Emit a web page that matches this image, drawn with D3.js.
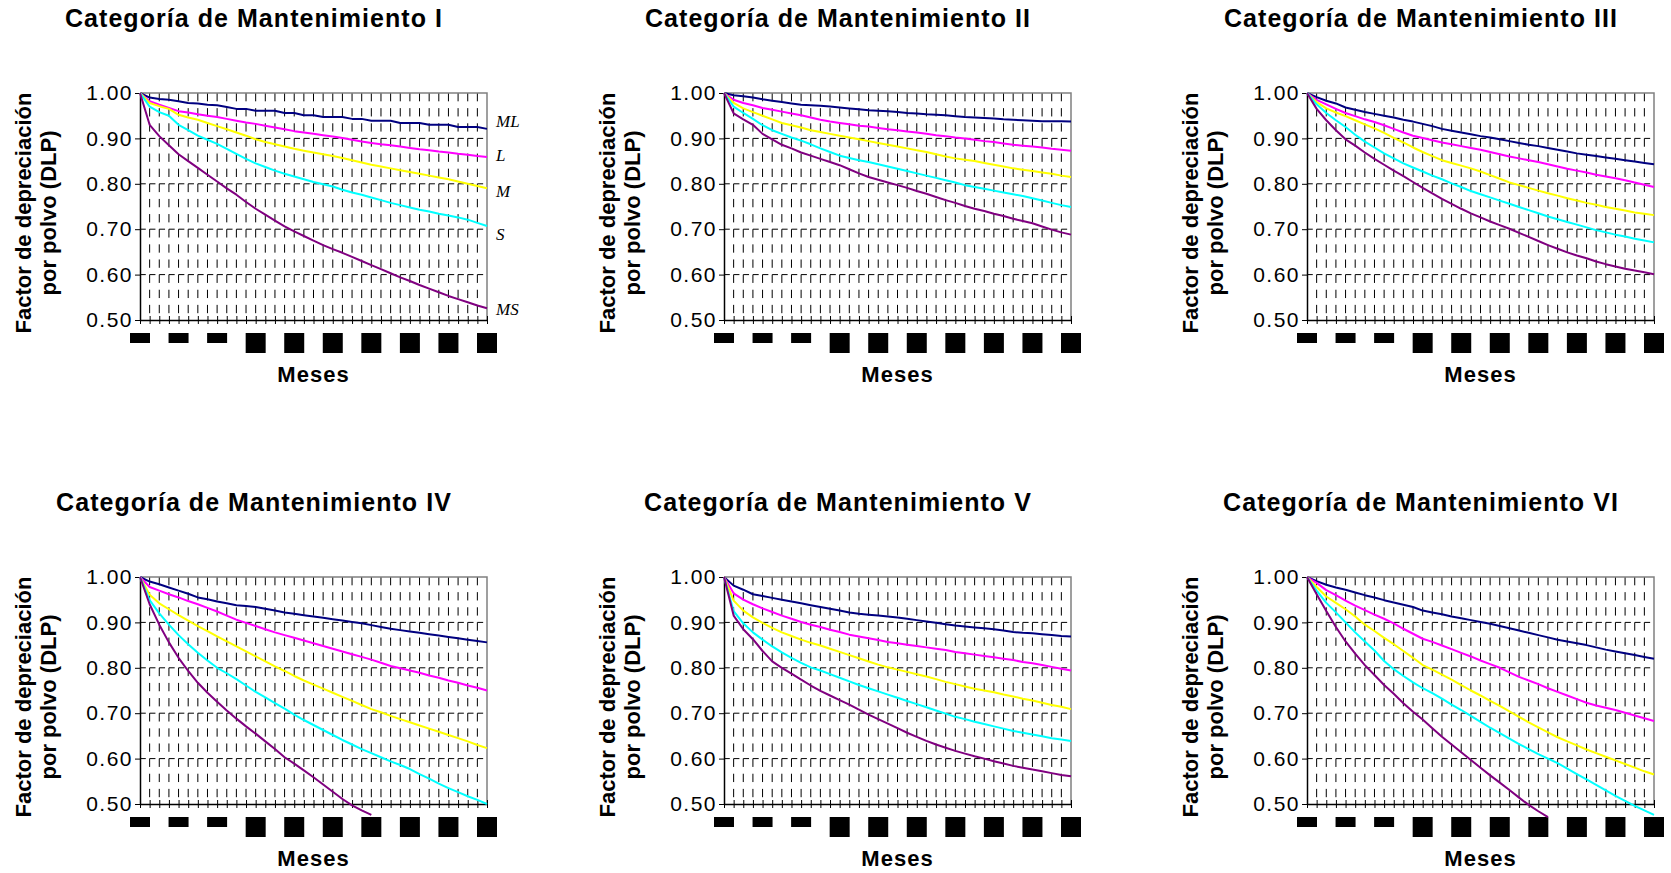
<!DOCTYPE html>
<html>
<head>
<meta charset="utf-8">
<script src="https://cdn.jsdelivr.net/npm/d3@7"></script>
<style>
  body { margin: 0; background: #fff; }
  svg { display: block; font-family: 'Liberation Sans', Arial, sans-serif; }
</style>
</head>
<body>
<svg id="chart" width="1671" height="873"></svg>
<script>
// DATA
const meses = [0,1,2,3,4,5,6,7,8,9,10,11,12,13,14,15,16,17,18,19,20,21,22,23,24,25,26,27,28,29,30,31,32,33,34,35,36];
const marcasMeses = [0,4,8,12,16,20,24,28,32,36];
const valoresY = [0.5,0.6,0.7,0.8,0.9,1.0];
const categorias = ['ML','L','M','S','MS'];
const titulos = [
  'Categoría de Mantenimiento I',
  'Categoría de Mantenimiento II',
  'Categoría de Mantenimiento III',
  'Categoría de Mantenimiento IV',
  'Categoría de Mantenimiento V',
  'Categoría de Mantenimiento VI',
];

const I_ML = [1.000,.990,.987,.985,.982,.978,.977,.974,.973,.969,.965,.965,.961,.961,.961,.956,.956,.951,.951,.947,.947,.947,.943,.943,.939,.939,.939,.934,.934,.934,.930,.930,.930,.925,.925,.925,.921];
const I_L  = [1.000,.982,.974,.967,.960,.957,.953,.950,.947,.943,.939,.935,.932,.928,.924,.920,.916,.913,.910,.907,.904,.901,.897,.893,.890,.887,.885,.882,.879,.876,.874,.871,.869,.866,.864,.861,.859];
const I_M  = [1.000,.978,.971,.965,.952,.946,.941,.934,.927,.920,.913,.906,.898,.892,.887,.882,.877,.873,.869,.865,.861,.857,.852,.847,.842,.838,.834,.830,.826,.822,.818,.814,.810,.805,.800,.795,.790];
const I_S  = [1.000,.970,.958,.950,.930,.918,.906,.897,.888,.877,.866,.855,.845,.837,.829,.822,.816,.810,.804,.799,.794,.787,.781,.776,.770,.764,.758,.753,.748,.743,.739,.734,.730,.726,.721,.714,.707];
const I_MS = [1.000,.930,.905,.885,.865,.850,.835,.820,.805,.790,.776,.760,.745,.732,.719,.706,.695,.685,.675,.665,.656,.648,.639,.630,.621,.612,.603,.594,.586,.577,.569,.561,.553,.546,.539,.532,.526];

const II_ML = [1.000,.995,.993,.990,.986,.983,.980,.977,.974,.973,.972,.970,.968,.966,.964,.962,.961,.960,.958,.956,.955,.953,.952,.951,.949,.947,.946,.945,.944,.942,.941,.940,.939,.938,.938,.938,.937];
const II_L  = [1.000,.985,.978,.973,.967,.963,.959,.955,.951,.946,.941,.937,.934,.931,.928,.926,.923,.920,.918,.915,.913,.910,.907,.905,.902,.900,.897,.894,.892,.889,.886,.884,.882,.880,.877,.875,.873];
const II_M  = [1.000,.978,.966,.958,.950,.942,.934,.929,.924,.918,.914,.910,.906,.902,.898,.894,.890,.886,.882,.878,.874,.870,.865,.860,.856,.853,.850,.846,.842,.838,.834,.831,.828,.825,.822,.818,.815];
const II_S  = [1.000,.970,.956,.943,.929,.918,.910,.902,.895,.887,.878,.870,.862,.857,.852,.848,.843,.838,.833,.828,.823,.818,.813,.808,.803,.797,.793,.789,.785,.781,.777,.773,.768,.763,.758,.753,.749];
const II_MS = [1.000,.955,.942,.930,.910,.898,.886,.878,.869,.862,.855,.848,.841,.832,.823,.815,.809,.803,.797,.791,.784,.778,.771,.764,.758,.751,.745,.740,.734,.729,.723,.718,.713,.706,.699,.693,.688];

const III_ML = [1.000,.991,.983,.977,.968,.963,.958,.954,.950,.946,.941,.937,.932,.927,.921,.917,.913,.909,.905,.902,.898,.894,.890,.886,.883,.879,.875,.871,.867,.864,.861,.858,.855,.852,.849,.846,.843];
const III_L  = [1.000,.985,.975,.965,.956,.949,.942,.936,.929,.921,.913,.906,.901,.896,.891,.887,.883,.879,.875,.870,.865,.860,.856,.852,.848,.843,.838,.833,.829,.825,.820,.816,.812,.808,.803,.798,.793];
const III_M  = [1.000,.980,.966,.957,.949,.940,.931,.922,.912,.901,.891,.880,.870,.861,.852,.846,.840,.834,.827,.819,.811,.803,.797,.791,.785,.779,.774,.768,.763,.758,.754,.749,.745,.741,.737,.734,.731];
const III_S  = [1.000,.975,.956,.940,.925,.908,.893,.880,.867,.856,.845,.836,.827,.818,.810,.801,.793,.784,.777,.770,.763,.756,.749,.742,.735,.728,.722,.716,.710,.704,.698,.693,.688,.684,.679,.675,.671];
const III_MS = [1.000,.965,.940,.918,.898,.884,.869,.855,.842,.829,.817,.804,.791,.779,.767,.756,.745,.735,.726,.717,.709,.701,.692,.683,.674,.665,.657,.649,.642,.636,.629,.623,.618,.613,.609,.605,.601];

const IV_ML = [1.000,.990,.984,.977,.970,.963,.955,.951,.946,.942,.938,.936,.934,.930,.926,.922,.919,.916,.913,.910,.907,.904,.901,.898,.894,.890,.886,.883,.880,.877,.874,.871,.868,.865,.862,.859,.856];
const IV_L  = [1.000,.978,.970,.962,.955,.947,.940,.932,.924,.915,.906,.899,.892,.885,.878,.872,.866,.860,.854,.848,.842,.836,.830,.824,.818,.811,.804,.799,.794,.789,.783,.778,.772,.767,.761,.756,.750];
const IV_M  = [1.000,.961,.942,.929,.916,.904,.892,.881,.869,.858,.847,.836,.825,.814,.803,.793,.782,.772,.763,.754,.745,.736,.727,.718,.709,.702,.694,.687,.680,.673,.666,.659,.652,.645,.638,.630,.623];
const IV_S  = [1.000,.949,.920,.895,.872,.852,.833,.816,.800,.788,.775,.761,.747,.735,.722,.710,.697,.685,.674,.663,.652,.641,.631,.621,.612,.603,.594,.586,.577,.566,.556,.545,.535,.526,.517,.509,.500];
const IV_MS = [1.000,.940,.895,.856,.822,.793,.767,.745,.725,.706,.688,.671,.655,.638,.621,.603,.589,.574,.559,.543,.527,.511,.497,.486,.476];

const V_ML = [1.000,.981,.972,.962,.958,.954,.950,.946,.942,.938,.934,.930,.926,.922,.919,.917,.915,.913,.911,.908,.905,.902,.899,.896,.893,.891,.889,.887,.885,.882,.879,.877,.876,.874,.872,.870,.869];
const V_L  = [1.000,.964,.950,.940,.931,.923,.915,.908,.901,.895,.890,.884,.879,.873,.869,.865,.861,.857,.854,.851,.848,.845,.842,.839,.835,.832,.829,.826,.823,.820,.817,.813,.810,.806,.802,.798,.794];
const V_M  = [1.000,.948,.926,.911,.899,.888,.878,.870,.862,.855,.849,.842,.835,.828,.821,.814,.807,.801,.796,.791,.786,.781,.775,.769,.764,.759,.754,.750,.746,.741,.737,.732,.728,.723,.718,.714,.709];
const V_S  = [1.000,.925,.898,.878,.862,.847,.834,.822,.811,.801,.794,.786,.778,.770,.762,.755,.748,.741,.734,.727,.720,.713,.706,.699,.692,.687,.681,.676,.671,.666,.661,.657,.653,.649,.645,.642,.639];
const V_MS = [1.000,.915,.885,.863,.837,.814,.800,.787,.774,.761,.749,.739,.729,.719,.708,.697,.687,.677,.667,.657,.648,.639,.631,.624,.617,.611,.605,.600,.594,.589,.584,.580,.576,.572,.568,.564,.561];

const VI_ML = [1.000,.991,.983,.977,.972,.966,.960,.955,.949,.944,.939,.934,.926,.922,.918,.913,.909,.905,.901,.897,.892,.887,.882,.877,.872,.867,.862,.858,.854,.850,.845,.840,.836,.832,.828,.824,.820];
const VI_L  = [1.000,.987,.971,.960,.948,.937,.927,.917,.908,.898,.886,.875,.864,.857,.849,.841,.833,.825,.816,.808,.800,.790,.780,.772,.764,.755,.747,.739,.731,.723,.717,.712,.707,.701,.695,.689,.683];
const VI_M  = [1.000,.978,.957,.943,.929,.913,.895,.881,.866,.852,.837,.822,.806,.796,.785,.774,.762,.750,.739,.727,.716,.704,.692,.680,.669,.658,.647,.638,.629,.620,.612,.604,.596,.588,.580,.572,.565];
const VI_S  = [1.000,.970,.943,.922,.900,.878,.858,.838,.815,.797,.782,.768,.755,.744,.732,.719,.707,.694,.681,.668,.656,.644,.632,.621,.610,.600,.590,.578,.566,.554,.542,.530,.518,.507,.496,.486,.476];
const VI_MS = [1.000,.962,.925,.890,.858,.831,.806,.784,.762,.743,.722,.703,.686,.667,.648,.631,.614,.597,.580,.563,.547,.531,.514,.498,.484,.471];

const seriesPorPanel = [
  [I_ML, I_L, I_M, I_S, I_MS],
  [II_ML, II_L, II_M, II_S, II_MS],
  [III_ML, III_L, III_M, III_S, III_MS],
  [IV_ML, IV_L, IV_M, IV_S, IV_MS],
  [V_ML, V_L, V_M, V_S, V_MS],
  [VI_ML, VI_L, VI_M, VI_S, VI_MS],
];

//LAYOUT
const colores = ['#000080', '#ff00ff', '#ffff00', '#00ffff', '#800080'];
const desplazamientos = [-6, 0, 5, 10, 3];
const W = 347;
const H = 227;
const origenes = [[140, 93], [724, 93], [1307, 93], [140, 577], [724, 577], [1307, 577]];

const svg = d3.select('#chart');

titulos.forEach((titulo, k) => {
  drawPanel(titulo, seriesPorPanel[k], origenes[k][0], origenes[k][1], k === 0);
});

function drawPanel(titulo, series, x0, y0, conEtiquetas) {
  const g = svg.append('g').attr('transform', `translate(${x0},${y0})`);

  //SCALES
  const x = d3.scaleLinear().domain([0, 36]).range([0, W]);
  const y = d3.scaleLinear().domain([0.5, 1]).range([H, 0]);
  const paso = x(1) - x(0);
  const periodoV = (y(0.9) - y(1)) / 3;

  //GRID
  g.append('g')
    .selectAll('line')
    .data(meses.filter((m) => m > 0 && m < 36))
    .join('line')
    .attr('x1', (d) => x(d))
    .attr('x2', (d) => x(d))
    .attr('y1', 0)
    .attr('y2', H)
    .attr('stroke', '#000')
    .attr('stroke-width', 1)
    .attr('stroke-dasharray', `${periodoV * 0.55} ${periodoV * 0.45}`);

  g.append('g')
    .selectAll('line')
    .data(valoresY.filter((v) => v > 0.5 && v < 1))
    .join('line')
    .attr('x1', 0)
    .attr('x2', W)
    .attr('y1', (d) => y(d))
    .attr('y2', (d) => y(d))
    .attr('stroke', '#000')
    .attr('stroke-width', 1)
    .attr('stroke-dasharray', `${paso * 0.6} ${paso * 0.4}`);

  //FRAME
  g.append('path')
    .attr('d', `M0,0H${W}V${H}`)
    .attr('fill', 'none')
    .attr('stroke', '#808080')
    .attr('stroke-width', 1.5);

  //AXES
  const ejeX = g.append('g')
    .attr('transform', `translate(0,${H})`)
    .call(d3.axisBottom(x).tickValues(meses).tickSize(4).tickSizeOuter(0).tickFormat(''));
  ejeX.select('.domain').attr('stroke', '#000').attr('stroke-width', 1.5);
  ejeX.selectAll('.tick line').attr('y1', -4).attr('y2', 4).attr('stroke', '#000');

  const ejeY = g.append('g')
    .call(d3.axisLeft(y).tickValues(valoresY).tickFormat(d3.format('.2f')).tickSize(5).tickSizeOuter(0).tickPadding(2));
  ejeY.select('.domain').attr('stroke', '#000').attr('stroke-width', 1.5);
  ejeY.selectAll('.tick text')
    .attr('fill', '#000')
    .style('font-family', "'Liberation Sans', Arial, sans-serif")
    .style('font-size', '21px')
    .style('letter-spacing', '1.5px');

  //MONTH LABELS (shown as black blocks)
  const marcas = g.append('g');
  marcas.selectAll('rect')
    .data(marcasMeses)
    .join('rect')
    .attr('x', (d) => x(d) - 10)
    .attr('y', H + 13)
    .attr('width', 20)
    .attr('height', (d) => (String(d).length > 1 ? 20 : 10))
    .attr('fill', '#000');
  marcas.selectAll('text')
    .data(marcasMeses)
    .join('text')
    .attr('x', (d) => x(d))
    .attr('y', H + 21)
    .attr('text-anchor', 'middle')
    .style('font-size', '9px')
    .attr('fill', '#000')
    .text((d) => d);

  //LINES
  const linea = d3.line()
    .x((d, i) => x(meses[i]))
    .y((d) => y(d));

  g.append('g')
    .selectAll('path')
    .data(series)
    .join('path')
    .attr('d', linea)
    .attr('fill', 'none')
    .attr('stroke', (d, i) => colores[i])
    .attr('stroke-width', 2)
    .attr('stroke-linejoin', 'round');

  //HANDWRITTEN TAGS
  if (conEtiquetas) {
    g.append('g')
      .selectAll('text')
      .data(series)
      .join('text')
      .attr('x', W + 9)
      .attr('y', (d, i) => y(d[d.length - 1]) + desplazamientos[i])
      .attr('dominant-baseline', 'middle')
      .style('font-family', "'Liberation Serif', serif")
      .style('font-style', 'italic')
      .style('font-size', '17px')
      .attr('fill', '#000')
      .text((d, i) => categorias[i]);
  }

  //TEXT
  svg.append('text')
    .attr('x', x0 + 114)
    .attr('y', y0 - 66)
    .attr('text-anchor', 'middle')
    .style('font-weight', 'bold')
    .style('font-size', '25px')
    .style('letter-spacing', '1.05px')
    .text(titulo);

  const etiquetaY = svg.append('text')
    .attr('transform', `translate(${x0 - 104},${y0 + 120}) rotate(-90)`)
    .attr('text-anchor', 'middle')
    .style('font-weight', 'bold')
    .style('font-size', '22px');
  etiquetaY.append('tspan').attr('x', 0).attr('y', -12.25).attr('dominant-baseline', 'central').text('Factor de depreciación');
  etiquetaY.append('tspan').attr('x', 0).attr('y', 12.25).attr('dominant-baseline', 'central').text('por polvo (DLP)');

  svg.append('text')
    .attr('x', x0 + W / 2)
    .attr('y', y0 + H + 62)
    .attr('text-anchor', 'middle')
    .style('font-weight', 'bold')
    .style('font-size', '22px')
    .style('letter-spacing', '1px')
    .text('Meses');
}
</script>
</body>
</html>
